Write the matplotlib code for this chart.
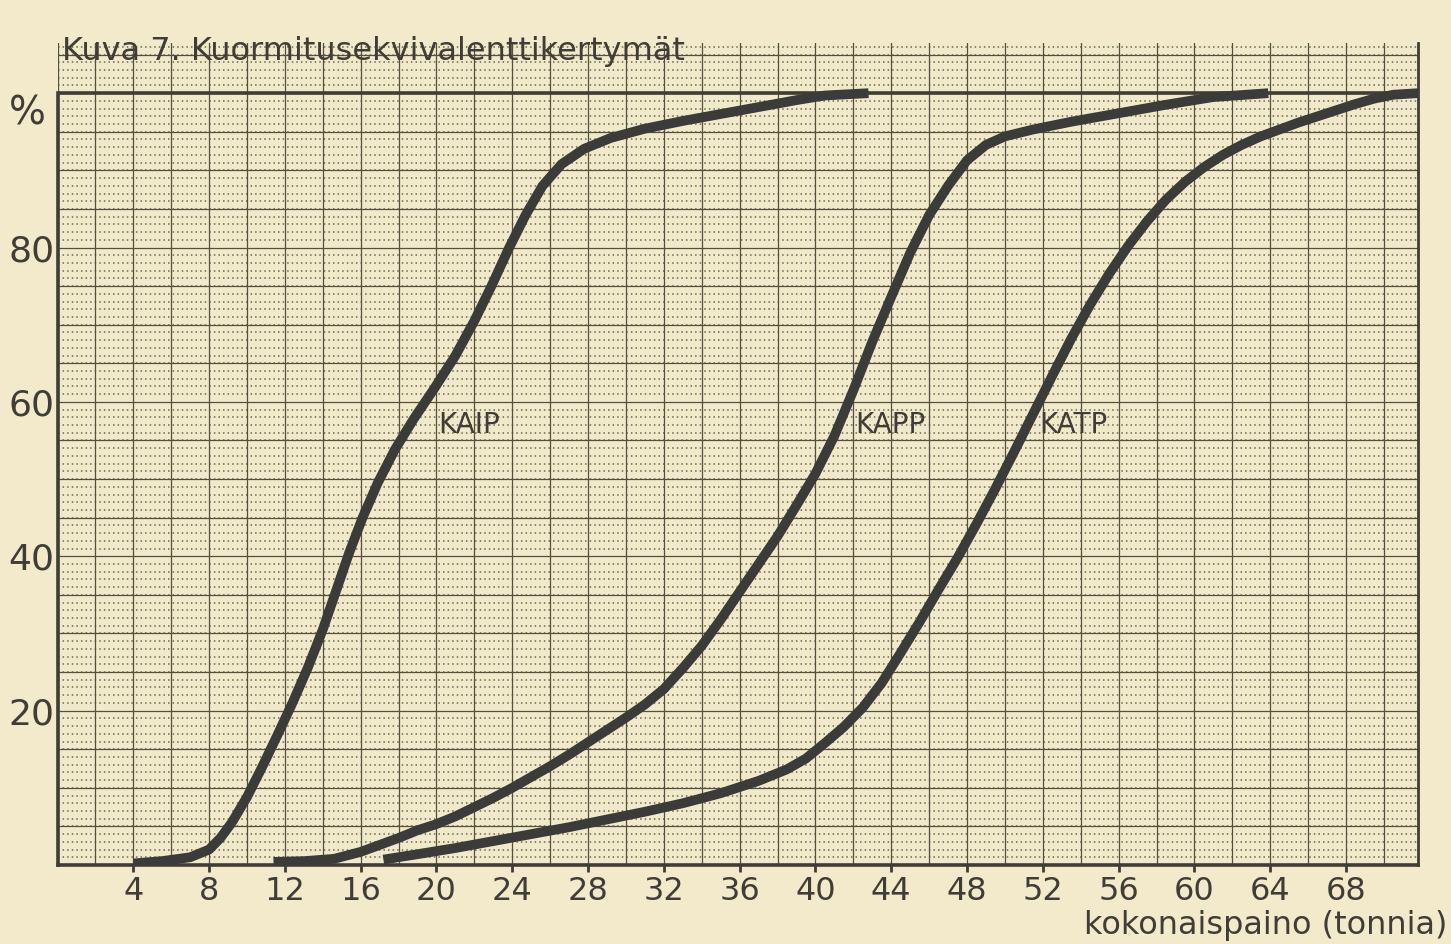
import matplotlib.pyplot as plt
from matplotlib.ticker import MultipleLocator

# luettu kuvasta: kokonaispaino (t) ja kertymä (%)
kaip_x = [4.0, 5.5, 7.0, 8.0, 8.6, 9.2, 10.0, 10.8, 11.6, 12.4, 13.2, 14.0, 14.7, 15.4, 16.1,
          16.9, 17.8, 18.8, 19.9, 21.0, 22.0, 22.9, 23.8, 24.7, 25.6, 26.6, 27.8, 29.2,
          31.0, 33.0, 35.0, 37.0, 39.0, 40.5, 42.8]
kaip_y = [0.2, 0.5, 1.0, 2.0, 3.5, 5.5, 8.8, 12.7, 16.8, 21.0, 25.5, 30.5, 35.5, 40.5, 45.0,
          49.5, 53.8, 57.8, 61.8, 66.0, 70.5, 75.0, 79.8, 84.2, 88.0, 90.8, 92.8, 94.2,
          95.4, 96.4, 97.3, 98.2, 99.1, 99.7, 100.0]

kapp_x = [11.4, 13.0, 14.6, 16.0, 17.0, 18.0, 19.0, 20.0, 21.0, 22.0, 23.0, 24.0, 25.0,
          26.0, 27.0, 28.0, 29.0, 30.0, 31.0, 32.0, 33.0, 34.0, 35.0, 36.0, 37.0, 38.0,
          39.0, 40.0, 41.0, 42.0, 43.0, 44.0, 45.0, 46.0, 47.0, 48.0, 49.0, 50.0, 51.5,
          53.5, 56.0, 58.5, 61.0, 63.9]
kapp_y = [0.4, 0.5, 0.8, 1.7, 2.6, 3.5, 4.5, 5.3, 6.3, 7.5, 8.7, 10.0, 11.4,
          12.8, 14.3, 15.9, 17.5, 19.1, 20.8, 22.8, 25.5, 28.4, 31.8, 35.4, 39.0, 42.6,
          46.6, 50.7, 55.6, 61.5, 67.8, 73.6, 79.3, 84.2, 88.0, 91.3, 93.3, 94.4, 95.3,
          96.3, 97.4, 98.5, 99.5, 100.0]

katp_x = [17.2, 19.0, 21.0, 23.0, 25.0, 27.0, 29.0, 31.0, 33.0, 35.0, 37.0, 38.5, 39.5,
          40.5, 41.5, 42.5, 43.5, 44.5, 45.5, 46.5, 47.5, 48.5, 49.5, 50.5, 51.5, 52.5,
          53.5, 54.5, 55.5, 56.5, 57.5, 58.5, 59.5, 60.5, 61.5, 62.5, 63.5, 64.5, 65.5,
          66.5, 67.5, 68.5, 69.5, 70.5, 71.8]
katp_y = [0.7, 1.4, 2.2, 3.1, 4.0, 4.9, 5.9, 6.9, 8.0, 9.3, 10.9, 12.4, 13.8,
          15.8, 17.9, 20.4, 23.6, 27.5, 31.5, 35.7, 39.8, 44.2, 48.8, 53.6, 58.5, 63.4,
          68.2, 72.6, 76.6, 80.2, 83.4, 86.2, 88.5, 90.4, 92.0, 93.3, 94.4, 95.3, 96.2,
          97.0, 97.8, 98.6, 99.3, 99.8, 100.0]

x_ticks = [4, 8, 12, 16, 20, 24, 28, 32, 36, 40, 44, 48, 52, 56, 60, 64, 68]
y_ticks = [20, 40, 60, 80]

labels = ['KAIP', 'KAPP', 'KATP']
label_pos = [(20.1, 57.0), (42.1, 57.0), (51.8, 57.0)]

ink = '#3f3d36'
grid_c = '#55503d'
curve_c = '#3b3b39'

plt.rcParams['font.family'] = ['DejaVu Sans']

fig = plt.figure(figsize=(14.51, 9.44), dpi=100, facecolor='#f3e9cb')
ax = fig.add_axes([57.5 / 1451, 79 / 944, (1418 - 57.5) / 1451, (865 - 43) / 944])
ax.set_facecolor('#f1eaca')
ax.set_xlim(0, 71.8)
ax.set_ylim(0, 106.5)

# millimetripaperi: viivat 2 t / 5 % välein, pisterivit 1 % välein
for v in range(0, 72, 2):
    ax.axvline(v, color=grid_c, lw=0.9, zorder=0)
for v in range(0, 107, 5):
    ax.axhline(v, color=grid_c, lw=0.9, zorder=0)
ax.yaxis.set_minor_locator(MultipleLocator(1))
ax.grid(which='minor', axis='y', color=grid_c, lw=1.1, alpha=0.85, linestyle=(0, (1.0, 2.0)))
ax.set_axisbelow(True)

ax.axhline(100, color=ink, lw=2.6, zorder=2)

for xs, ys in [(kaip_x, kaip_y), (kapp_x, kapp_y), (katp_x, katp_y)]:
    ax.plot(xs, ys, color=curve_c, lw=7, solid_capstyle='butt', solid_joinstyle='round', zorder=3)

for name, (lx, ly) in zip(labels, label_pos):
    ax.text(lx, ly, name, fontsize=20, color=ink, va='center', ha='left', zorder=4)

ax.set_xticks(x_ticks)
ax.set_xticklabels([str(v) for v in x_ticks], fontsize=23, color=ink)
ax.set_yticks(y_ticks)
ax.set_yticklabels([str(v) for v in y_ticks], fontsize=26, color=ink)
ax.tick_params(axis='x', which='major', length=5, width=2, color=ink, pad=3)
ax.tick_params(axis='y', which='both', length=0, pad=2)
ax.tick_params(axis='x', which='minor', length=0)

for s in ['left', 'bottom']:
    ax.spines[s].set_linewidth(2.6)
    ax.spines[s].set_color(ink)
ax.spines['left'].set_bounds(0, 100)
ax.spines['right'].set_linewidth(2.0)
ax.spines['right'].set_color(ink)
ax.spines['top'].set_visible(False)

ax.text(-0.6, 97.4, '%', fontsize=28, color=ink, ha='right', va='center')

fig.text(62 / 1451, 1 - 60 / 944, 'Kuva 7. Kuormitusekvivalenttikertymät',
         fontsize=23, color=ink, ha='left', va='baseline')
fig.text(1447 / 1451, 1 - 934 / 944, 'kokonaispaino (tonnia)',
         fontsize=23, color=ink, ha='right', va='baseline')

fig.savefig('out.png', dpi=100, facecolor=fig.get_facecolor())
